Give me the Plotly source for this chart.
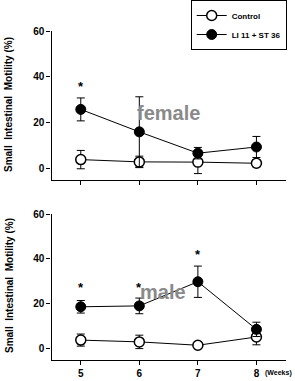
import plotly.graph_objects as go

weeks = [5, 6, 7, 8]
tick_labels = ["5", "6", "7", "8"]

# female (top panel)
f_control = [3.9, 2.9, 2.8, 2.3]
f_control_err = [4.0, 2.5, 5.0, 1.5]
f_li = [25.8, 16.0, 6.7, 9.4]
f_li_err = [5.0, 15.3, 2.5, 4.6]
f_star_weeks = [5]
f_star_y = [36]

# male (bottom panel)
m_control = [3.6, 2.8, 1.3, 5.0]
m_control_err = [2.7, 3.0, 0.0, 3.5]
m_li = [18.5, 18.9, 29.7, 8.4]
m_li_err = [2.8, 3.5, 7.0, 3.2]
m_star_weeks = [5, 6, 7]
m_star_y = [27, 27, 42]

W, H = 295, 381
FONT = "Liberation Sans, Arial, sans-serif"

fig = go.Figure()

def add_panel(ctrl, ctrl_err, li, li_err, xa, ya, show):
    fig.add_trace(go.Scatter(
        x=weeks, y=ctrl, name="Control", mode="lines+markers",
        line=dict(color="black", width=1),
        marker=dict(symbol="circle", size=10, color="white", line=dict(color="black", width=1.5)),
        error_y=dict(type="data", array=ctrl_err, visible=True, color="black", thickness=1, width=4),
        xaxis=xa, yaxis=ya, showlegend=show, legendrank=1))
    fig.add_trace(go.Scatter(
        x=weeks, y=li, name="LI 11 + ST 36", mode="lines+markers",
        line=dict(color="black", width=1),
        marker=dict(symbol="circle", size=10, color="black", line=dict(color="black", width=1)),
        error_y=dict(type="data", array=li_err, visible=True, color="black", thickness=1, width=4),
        xaxis=xa, yaxis=ya, showlegend=show, legendrank=2))

add_panel(f_control, f_control_err, f_li, f_li_err, "x", "y", True)
add_panel(m_control, m_control_err, m_li, m_li_err, "x2", "y2", False)

xdom = [51.5 / W, 285.7 / W]
axis_common = dict(showline=True, linecolor="black", linewidth=1.3, ticks="outside",
                   ticklen=4, tickwidth=1.3, tickcolor="black", showgrid=False,
                   zeroline=False, automargin=False,
                   tickfont=dict(family=FONT, size=10, color="black", weight="bold"))

fig.update_layout(
    width=W, height=H, margin=dict(l=0, r=0, t=0, b=0),
    paper_bgcolor="white", plot_bgcolor="white",
    font=dict(family=FONT, color="black"),
    xaxis=dict(domain=xdom, range=[4.5, 8.5], tickvals=weeks, showticklabels=False,
               anchor="y", **axis_common),
    yaxis=dict(domain=[1 - 180 / H, 1 - 31 / H], range=[-5, 60], tickvals=[0, 20, 40, 60],
               anchor="x", **axis_common),
    xaxis2=dict(domain=xdom, range=[4.5, 8.5], tickvals=weeks, ticktext=tick_labels,
                anchor="y2", **axis_common),
    yaxis2=dict(domain=[1 - 360 / H, 1 - 214 / H], range=[-5.3, 60], tickvals=[0, 20, 40, 60],
                anchor="x2", **axis_common),
    legend=dict(x=286.7 / W, xanchor="right", y=1.0, yanchor="top",
                bordercolor="black", borderwidth=1, bgcolor="white",
                font=dict(family=FONT, size=8, weight="bold"),
                tracegroupgap=0, itemwidth=30),
    showlegend=True,
)

ann = []
for wk, yv in zip(f_star_weeks, f_star_y):
    ann.append(dict(x=wk, y=yv, xref="x", yref="y", text="*", showarrow=False,
                    xanchor="center", yanchor="middle",
                    font=dict(family=FONT, size=13, weight="bold")))
for wk, yv in zip(m_star_weeks, m_star_y):
    ann.append(dict(x=wk, y=yv, xref="x2", yref="y2", text="*", showarrow=False,
                    xanchor="center", yanchor="middle",
                    font=dict(family=FONT, size=13, weight="bold")))
ann.append(dict(x=168 / W, y=1 - 113 / H, xref="paper", yref="paper", text="female",
                xanchor="center", yanchor="middle",
                showarrow=False, font=dict(family=FONT, size=20, color="#8a8a8a", weight="bold")))
ann.append(dict(x=163 / W, y=1 - 292 / H, xref="paper", yref="paper", text="male",
                xanchor="center", yanchor="middle",
                showarrow=False, font=dict(family=FONT, size=20, color="#8a8a8a", weight="bold")))
for yc in [105, 286]:
    ann.append(dict(x=9 / W, y=1 - yc / H, xref="paper", yref="paper",
                    xanchor="center", yanchor="middle",
                    text="Small  Intestinal  Motility (%)", textangle=-90, showarrow=False,
                    font=dict(family=FONT, size=10, weight="bold")))
ann.append(dict(x=263 / W, y=1 - 373 / H, xref="paper", yref="paper", text="(Weeks)",
                xanchor="left", yanchor="middle",
                showarrow=False, font=dict(family=FONT, size=7, weight="bold")))
fig.update_layout(annotations=ann)

fig.write_html("out.html")
